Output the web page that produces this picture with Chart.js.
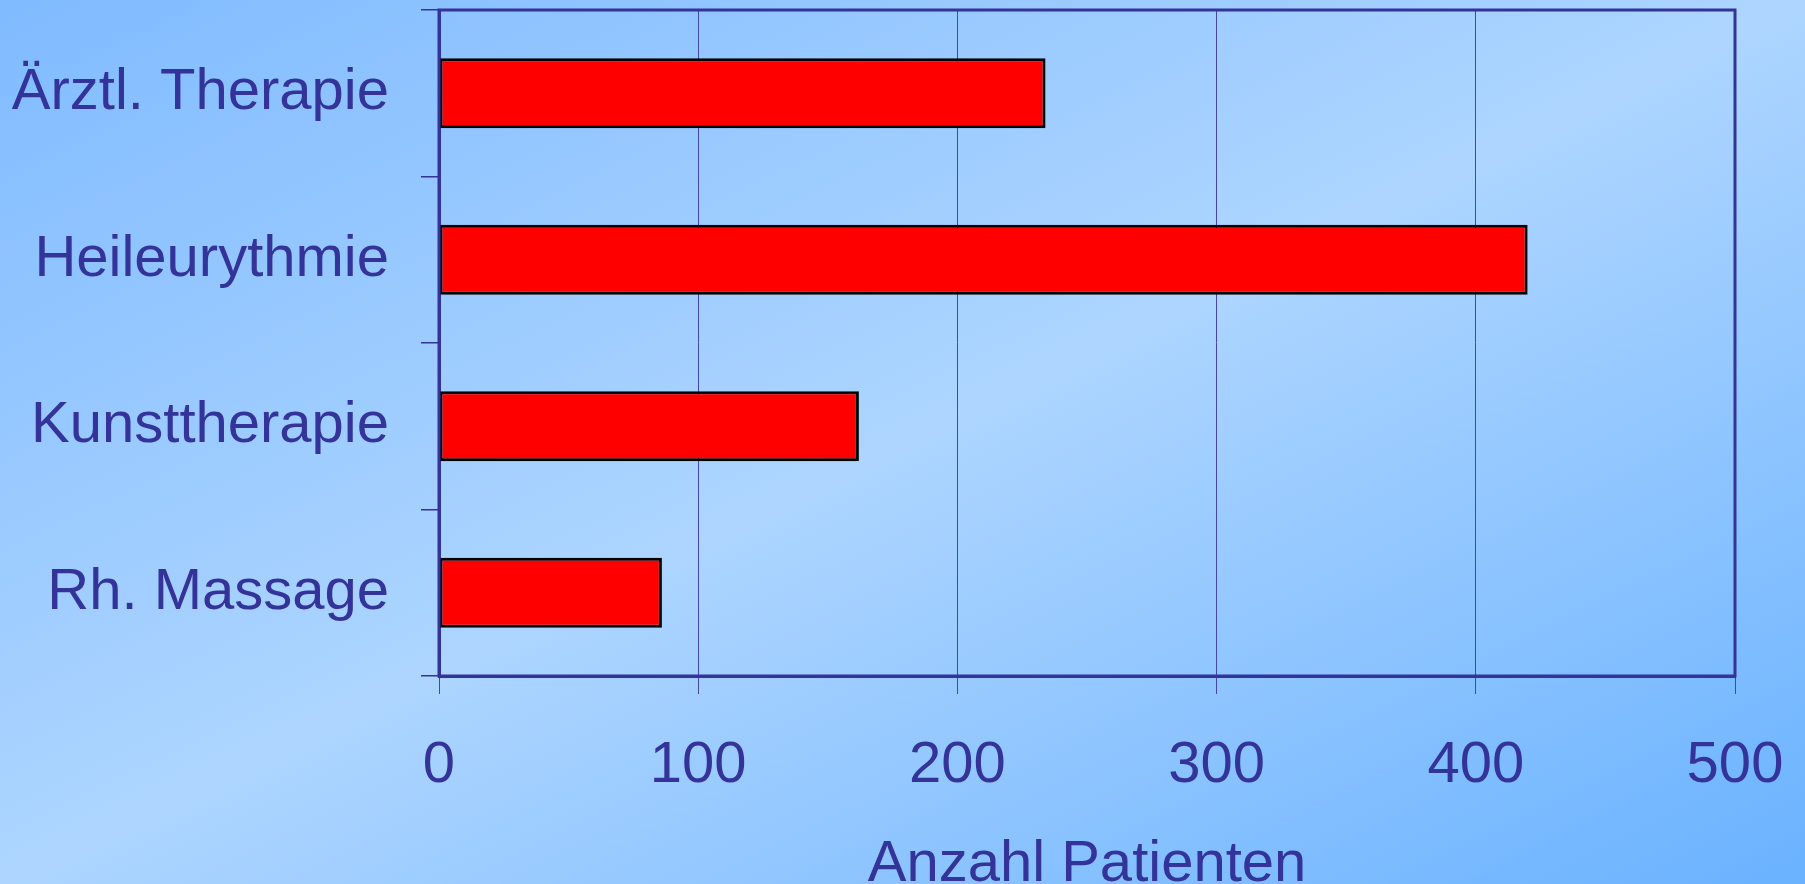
<!DOCTYPE html>
<html>
<head>
<meta charset="utf-8">
<script src="https://cdn.jsdelivr.net/npm/chart.js@4"></script>
<style>
  html, body { margin: 0; padding: 0; overflow: hidden; }
  body {
    width: 1805px; height: 884px;
    background: linear-gradient(to bottom right, #80bbff 0%, #add5ff 50%, #6ab2ff 100%);
  }
  #wrap { width: 1805px; height: 884px; }
</style>
</head>
<body>
<div id="wrap"><canvas id="barChart"></canvas></div>
<script>
// Data
var categories = ['Ärztl. Therapie', 'Heileurythmie', 'Kunsttherapie', 'Rh. Massage'];
var patientCounts = [234, 420, 162, 86];
var axisMin = 0;
var axisMax = 500;
var axisStep = 100;

var textColor = '#333399';
var fontFamily = '"Liberation Sans", Arial, sans-serif';

// frame round the plot area
var frame = {
    id: 'frame',
    afterDraw: function (chart) {
        var a = chart.chartArea;
        var ctx = chart.ctx;
        ctx.save();
        ctx.strokeStyle = textColor;
        ctx.lineWidth = 3;
        ctx.strokeRect(a.left, a.top, a.right - a.left, a.bottom - a.top);
        ctx.restore();
    }
};

var ctx = document.getElementById('barChart').getContext('2d');
var barChart = new Chart(ctx, {
    type: 'bar',
    data: {
        labels: categories,
        datasets: [{
            label: 'Anzahl Patienten',
            data: patientCounts,
            backgroundColor: '#ff0000',
            borderColor: '#000000',
            borderWidth: 3,
            borderSkipped: false,
            barPercentage: 0.42,
            categoryPercentage: 1
        }]
    },
    options: {
        indexAxis: 'y',
        responsive: true,
        maintainAspectRatio: false,
        animation: false,
        layout: { padding: { top: 10, right: 70, left: 0, bottom: 0 } },
        plugins: {
            legend: { display: false },
            tooltip: { enabled: false }
        },
        scales: {
            x: {
                min: axisMin,
                max: axisMax,
                ticks: {
                    stepSize: axisStep,
                    color: textColor,
                    padding: 37,
                    font: { family: fontFamily, size: 58 }
                },
                grid: {
                    color: '#4545b0',
                    lineWidth: 1,
                    tickLength: 18
                },
                border: { color: textColor, width: 3 },
                title: {
                    display: true,
                    text: 'Anzahl Patienten',
                    color: textColor,
                    font: { family: fontFamily, size: 58, lineHeight: 1 },
                    padding: { top: 0, bottom: -10 }
                },
                afterFit: function (scale) {
                    scale.height = 208;
                    scale.paddingLeft = 0;
                    scale.paddingRight = 0;
                }
            },
            y: {
                ticks: {
                    color: textColor,
                    padding: 32,
                    font: { family: fontFamily, size: 58 }
                },
                grid: {
                    offset: true,
                    drawOnChartArea: false,
                    color: textColor,
                    lineWidth: 1.5,
                    tickLength: 18
                },
                border: { color: textColor, width: 3 },
                afterFit: function (scale) {
                    scale.width = 439;
                    scale.paddingTop = 0;
                    scale.paddingBottom = 0;
                }
            }
        }
    },
    plugins: [frame]
});
</script>
</body>
</html>
